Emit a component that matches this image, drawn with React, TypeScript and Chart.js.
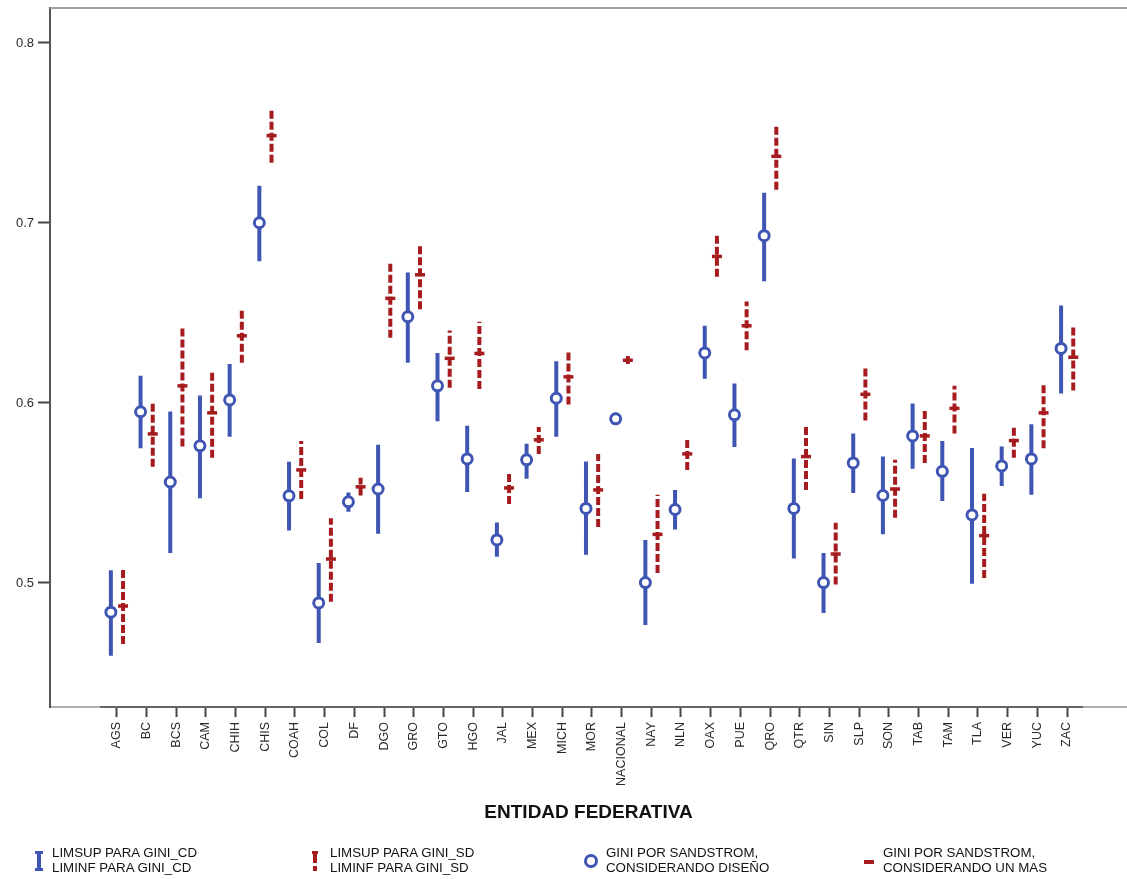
import React, { useEffect, useRef } from "react";
import { Chart, registerables } from "chart.js";

Chart.register(...registerables);

const categories = [
  "AGS", "BC", "BCS", "CAM", "CHIH", "CHIS", "COAH", "COL", "DF", "DGO", "GRO",
  "GTO", "HGO", "JAL", "MEX", "MICH", "MOR", "NACIONAL", "NAY", "NLN", "OAX",
  "PUE", "QRO", "QTR", "SIN", "SLP", "SON", "TAB", "TAM", "TLA", "VER", "YUC", "ZAC",
];

// GINI por Sandstrom, considerando diseño (CD)
const cdMid = [
  0.4838, 0.5951, 0.5561, 0.5762, 0.6017, 0.7001, 0.5484, 0.4889, 0.5451, 0.5522, 0.6479,
  0.6095, 0.5689, 0.5239, 0.5684, 0.6026, 0.5414, 0.5912, 0.5002, 0.5408, 0.6278,
  0.5934, 0.6929, 0.5414, 0.5002, 0.5667, 0.5486, 0.5817, 0.562, 0.5378, 0.565, 0.5689, 0.6303,
];
const cdHi = [
  0.507, 0.6151, 0.5953, 0.6042, 0.6217, 0.7207, 0.5673, 0.5111, 0.5502, 0.5768, 0.6725,
  0.6278, 0.5873, 0.5336, 0.5774, 0.6231, 0.5675, 0.5945, 0.5239, 0.5517, 0.6429,
  0.6108, 0.7168, 0.5692, 0.5167, 0.583, 0.5702, 0.5997, 0.5789, 0.575, 0.5758, 0.5882, 0.6542,
];
const cdLo = [
  0.4596, 0.5748, 0.5167, 0.547, 0.5812, 0.6787, 0.5291, 0.4666, 0.5395, 0.5274, 0.6223,
  0.5898, 0.5506, 0.5145, 0.5579, 0.5812, 0.5157, 0.5884, 0.4767, 0.5297, 0.6134,
  0.5756, 0.6676, 0.5136, 0.4833, 0.55, 0.527, 0.5634, 0.5456, 0.4996, 0.5539, 0.549, 0.6052,
];

// GINI por Sandstrom, considerando un MAS (SD)
const sdMid = [
  0.4872, 0.5828, 0.6095, 0.5945, 0.6373, 0.7485, 0.5628, 0.5133, 0.5534, 0.6581, 0.6712,
  0.6248, 0.6275, 0.5528, 0.5795, 0.6145, 0.5517, 0.6237, 0.527, 0.5717, 0.6814,
  0.6429, 0.737, 0.5702, 0.5161, 0.6048, 0.5522, 0.5817, 0.597, 0.5263, 0.5791, 0.5945, 0.6254,
];
const sdHi = [
  0.5078, 0.6, 0.6429, 0.617, 0.6512, 0.7638, 0.5789, 0.5359, 0.5584, 0.679, 0.6886,
  0.6402, 0.6451, 0.5606, 0.5867, 0.6295, 0.5717, 0.6262, 0.549, 0.5795, 0.6929,
  0.6563, 0.7549, 0.5878, 0.5334, 0.6192, 0.5684, 0.5967, 0.6095, 0.5496, 0.5878, 0.6114, 0.6434,
];
const sdLo = [
  0.4661, 0.5646, 0.5758, 0.5696, 0.6223, 0.7335, 0.5467, 0.4895, 0.5486, 0.6362, 0.652,
  0.6084, 0.6078, 0.5439, 0.5717, 0.5991, 0.5311, 0.6217, 0.5056, 0.5628, 0.6701,
  0.6293, 0.7185, 0.5517, 0.4992, 0.5902, 0.5362, 0.5667, 0.583, 0.5028, 0.5696, 0.5748, 0.6069,
];

const yTicks = [0.5, 0.6, 0.7, 0.8];
const xTitle = "ENTIDAD FEDERATIVA";
const legendLabels = [
  ["LIMSUP PARA GINI_CD", "LIMINF PARA GINI_CD"],
  ["LIMSUP PARA GINI_SD", "LIMINF PARA GINI_SD"],
  ["GINI POR SANDSTROM,", "CONSIDERANDO DISEÑO"],
  ["GINI POR SANDSTROM,", "CONSIDERANDO UN MAS"],
];

const BLUE = "#3f55b3";
const RED = "#a61b1d";
const FONT = "'Liberation Sans', Arial, sans-serif";
const OFF_CD = -0.2;
const OFF_SD = 0.21;

const framePlugin = {
  id: "frame",
  afterDraw(chart: any) {
    const { ctx, chartArea, scales } = chart;
    ctx.save();
    ctx.strokeStyle = "#a0a0a0";
    ctx.lineWidth = 2;
    ctx.beginPath();
    ctx.moveTo(chartArea.left, chartArea.top);
    ctx.lineTo(chartArea.right, chartArea.top);
    ctx.stroke();
    const x = scales.x;
    ctx.strokeStyle = "#666";
    ctx.beginPath();
    ctx.moveTo(x.getPixelForValue(-0.56), chartArea.bottom);
    ctx.lineTo(x.getPixelForValue(32.54), chartArea.bottom);
    ctx.stroke();
    ctx.restore();
  },
};

function barData(lo: number[], hi: number[], off: number) {
  const out: any[] = [];
  categories.forEach((_, i) => {
    out.push({ x: i + off, y: lo[i] });
    out.push({ x: i + off, y: hi[i] });
    out.push({ x: i + off, y: null });
  });
  return out;
}

function midData(mid: number[], off: number) {
  return categories.map((_, i) => ({ x: i + off, y: mid[i] }));
}

export default function App() {
  const ref = useRef<HTMLCanvasElement | null>(null);

  useEffect(() => {
    document.body.style.margin = "0";
    document.body.style.background = "#fff";
    const chart = new Chart(ref.current as HTMLCanvasElement, {
      type: "line",
      data: {
        datasets: [
          {
            label: "GINI POR SANDSTROM, CONSIDERANDO DISEÑO",
            data: midData(cdMid, OFF_CD),
            showLine: false,
            pointStyle: "circle",
            pointRadius: 5,
            pointBorderWidth: 3,
            pointBackgroundColor: "#fff",
            pointBorderColor: BLUE,
            order: 0,
          },
          {
            label: "GINI POR SANDSTROM, CONSIDERANDO UN MAS",
            data: midData(sdMid, OFF_SD),
            showLine: false,
            pointStyle: "line",
            pointRadius: 5,
            pointBorderWidth: 3.5,
            pointBorderColor: RED,
            pointBackgroundColor: RED,
            order: 1,
          },
          {
            label: "LIMSUP/LIMINF PARA GINI_CD",
            data: barData(cdLo, cdHi, OFF_CD),
            borderColor: BLUE,
            borderWidth: 4,
            borderCapStyle: "butt",
            pointRadius: 0,
            spanGaps: false,
            order: 2,
          },
          {
            label: "LIMSUP/LIMINF PARA GINI_SD",
            data: barData(sdLo, sdHi, OFF_SD),
            borderColor: RED,
            borderWidth: 4,
            borderDash: [8, 3],
            borderCapStyle: "butt",
            pointRadius: 0,
            spanGaps: false,
            order: 3,
          },
        ] as any,
      },
      options: {
        animation: false,
        responsive: false,
        maintainAspectRatio: false,
        layout: { autoPadding: false, padding: { top: 8, bottom: 49, left: 0, right: 0 } },
        plugins: { legend: { display: false }, tooltip: { enabled: false } },
        scales: {
          x: {
            type: "linear",
            min: -2.25,
            max: 34.02,
            afterFit(scale: any) {
              scale.height = 123;
              scale.paddingLeft = 0;
              scale.paddingRight = 0;
            },
            afterBuildTicks(scale: any) {
              scale.ticks = categories.map((_, i) => ({ value: i }));
            },
            ticks: {
              autoSkip: false,
              minRotation: 90,
              maxRotation: 90,
              padding: 5,
              color: "#2a2a2a",
              font: { family: FONT, size: 12.5 },
              callback: (v: any) => categories[v as number] ?? "",
            },
            grid: {
              drawOnChartArea: false,
              drawTicks: true,
              tickLength: 10,
              tickWidth: 2,
              tickColor: "#444",
            },
            border: { display: true, color: "#b0b0b0", width: 2 },
            title: {
              display: true,
              text: xTitle,
              color: "#111",
              font: { family: FONT, size: 19, weight: "bold" },
              padding: { top: 0, bottom: 6 },
            },
          },
          y: {
            type: "linear",
            min: 0.4311,
            max: 0.8194,
            afterFit(scale: any) {
              scale.width = 50;
              scale.paddingTop = 0;
              scale.paddingBottom = 0;
            },
            afterBuildTicks(scale: any) {
              scale.ticks = yTicks.map((v) => ({ value: v }));
            },
            ticks: {
              padding: 4,
              color: "#2a2a2a",
              font: { family: FONT, size: 13 },
              callback: (v: any) => Number(v).toFixed(1),
            },
            grid: {
              drawOnChartArea: false,
              drawTicks: true,
              tickLength: 12,
              tickWidth: 2,
              tickColor: "#444",
            },
            border: { display: true, color: "#555", width: 2 },
          },
        },
      } as any,
      plugins: [framePlugin],
    });
    return () => chart.destroy();
  }, []);

  const textStyle: React.CSSProperties = {
    position: "absolute",
    top: 845,
    fontFamily: FONT,
    fontSize: 13.3,
    lineHeight: "15px",
    color: "#111",
    whiteSpace: "nowrap",
  };

  return (
    <div style={{ position: "relative", width: 1127, height: 879, background: "#fff" }}>
      <canvas ref={ref} width={1127} height={879} style={{ display: "block", width: 1127, height: 879 }} />
      {/* legend item 1: blue error bar */}
      <div style={{ position: "absolute", left: 37, top: 851, width: 4, height: 20, background: BLUE }} />
      <div style={{ position: "absolute", left: 35, top: 851, width: 8, height: 3, background: BLUE }} />
      <div style={{ position: "absolute", left: 35, top: 868, width: 8, height: 3, background: BLUE }} />
      <div style={{ ...textStyle, left: 52 }}>{legendLabels[0][0]}<br />{legendLabels[0][1]}</div>
      {/* legend item 2: red dashed error bar */}
      <div style={{ position: "absolute", left: 313, top: 851, width: 4, height: 12, background: RED }} />
      <div style={{ position: "absolute", left: 312, top: 851, width: 6, height: 3, background: RED }} />
      <div style={{ position: "absolute", left: 313, top: 866, width: 4, height: 5, background: RED }} />
      <div style={{ ...textStyle, left: 330 }}>{legendLabels[1][0]}<br />{legendLabels[1][1]}</div>
      {/* legend item 3: blue circle */}
      <div style={{ position: "absolute", left: 584, top: 854, width: 8, height: 8, border: `3px solid ${BLUE}`, borderRadius: "50%" }} />
      <div style={{ ...textStyle, left: 606 }}>{legendLabels[2][0]}<br />{legendLabels[2][1]}</div>
      {/* legend item 4: red dash */}
      <div style={{ position: "absolute", left: 864, top: 860, width: 10, height: 4, background: RED }} />
      <div style={{ ...textStyle, left: 883 }}>{legendLabels[3][0]}<br />{legendLabels[3][1]}</div>
    </div>
  );
}
